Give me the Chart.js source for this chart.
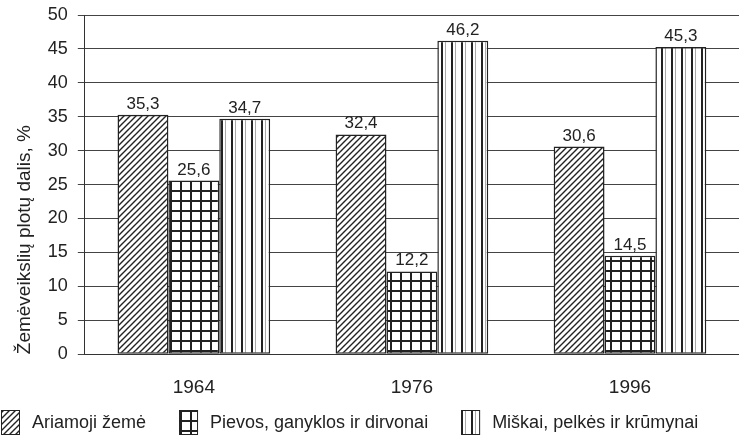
<!DOCTYPE html>
<html>
<head>
<meta charset="utf-8">
<script src="https://cdn.jsdelivr.net/npm/chart.js@4/dist/chart.umd.min.js"></script>
<style>
  html, body { margin: 0; padding: 0; background: #fff; }
  #wrap { width: 739px; height: 445px; }
</style>
</head>
<body>
<div id="wrap"><canvas id="chart" width="739" height="445"></canvas></div>
<script>
const years = ['1964', '1976', '1996'];
const arable = [35.3, 32.4, 30.6];
const meadows = [25.6, 12.2, 14.5];
const forests = [34.7, 46.2, 45.3];
const yTicks = [0, 5, 10, 15, 20, 25, 30, 35, 40, 45, 50];
const seriesNames = ['Ariamoji žemė', 'Pievos, ganyklos ir dirvonai', 'Miškai, pelkės ir krūmynai'];

const FONT = '"Liberation Sans", Arial, Helvetica, sans-serif';

// --- raštai stulpeliams ---
function makePattern(size, draw) {
    const c = document.createElement('canvas');
    c.width = size[0]; c.height = size[1];
    const g = c.getContext('2d');
    g.fillStyle = '#fff';
    g.fillRect(0, 0, c.width, c.height);
    draw(g, c.width, c.height);
    return g.createPattern(c, 'repeat');
}
const ctx = document.getElementById('chart').getContext('2d');
const diagPattern = makePattern([6, 6], (g, w, h) => {
    g.strokeStyle = '#222'; g.lineWidth = 1.4;
    g.beginPath();
    g.moveTo(-1, h + 1); g.lineTo(w + 1, -1);
    g.moveTo(-1, 1); g.lineTo(1, -1);
    g.moveTo(w - 1, h + 1); g.lineTo(w + 1, h - 1);
    g.stroke();
});
const gridPattern = makePattern([10, 10], (g, w, h) => {
    g.strokeStyle = '#222'; g.lineWidth = 2;
    g.beginPath();
    g.moveTo(1, 0); g.lineTo(1, h);
    g.moveTo(0, 1); g.lineTo(w, 1);
    g.stroke();
});
const vertPattern = makePattern([10, 2], (g, w, h) => {
    g.fillStyle = '#222';
    g.fillRect(1, 0, 2, h);
    g.fillStyle = '#aaa';
    g.fillRect(5, 0, 1, h);
});

// --- reikšmės virš stulpelių ---
const valueLabels = {
    id: 'valueLabels',
    afterDatasetsDraw(chart) {
        const c = chart.ctx;
        c.save();
        c.font = '17px ' + FONT;
        c.fillStyle = '#222';
        c.textAlign = 'center';
        c.textBaseline = 'alphabetic';
        chart.data.datasets.forEach((ds, i) => {
            chart.getDatasetMeta(i).data.forEach((bar, j) => {
                c.fillText(String(ds.data[j]).replace('.', ','), bar.x, bar.y - 6);
            });
        });
        c.restore();
    }
};

// --- legenda apačioje ---
const bottomLegend = {
    id: 'bottomLegend',
    afterDraw(chart) {
        const c = chart.ctx;
        c.save();
        c.font = '18px ' + FONT;
        c.textBaseline = 'middle';
        c.fillStyle = '#222';
        let x = 1;
        const top = 410, boxW = 19, boxH = 25;
        chart.data.datasets.forEach(ds => {
            c.fillStyle = ds.backgroundColor;
            c.fillRect(x, top, boxW, boxH);
            c.strokeStyle = '#222';
            c.lineWidth = 1;
            c.strokeRect(x + 0.5, top + 0.5, boxW - 1, boxH - 1);
            c.fillStyle = '#222';
            const tx = x + boxW + 12;
            c.fillText(ds.label, tx, top + boxH / 2 + 1);
            x = tx + c.measureText(ds.label).width + 33;
        });
        c.restore();
    }
};

new Chart(ctx, {
    type: 'bar',
    data: {
        labels: years,
        datasets: [
            { label: seriesNames[0], data: arable, backgroundColor: diagPattern },
            { label: seriesNames[1], data: meadows, backgroundColor: gridPattern },
            { label: seriesNames[2], data: forests, backgroundColor: vertPattern }
        ].map(d => Object.assign(d, { borderColor: '#222', borderWidth: 1.5, borderSkipped: false }))
    },
    options: {
        responsive: false,
        animation: false,
        devicePixelRatio: 1,
        layout: { padding: { left: 13, right: 0, top: 15, bottom: 32 } },
        datasets: { bar: { categoryPercentage: 0.7, barPercentage: 1 } },
        plugins: {
            legend: { display: false },
            tooltip: { enabled: false }
        },
        scales: {
            x: {
                grid: { display: false },
                border: { color: '#333', width: 1 },
                ticks: { color: '#222', font: { family: FONT, size: 19 }, padding: 14 }
            },
            y: {
                min: 0, max: 50,
                afterBuildTicks: axis => { axis.ticks = yTicks.map(v => ({ value: v })); },
                afterFit: axis => { axis.paddingTop = 0; },
                grid: { color: '#444', lineWidth: 1, tickLength: 7, drawTicks: true },
                border: { color: '#333', width: 1 },
                ticks: { color: '#222', font: { family: FONT, size: 18 }, padding: 10 },
                title: {
                    display: true,
                    text: 'Žemėveikslių plotų dalis, %',
                    align: 'start',
                    color: '#222',
                    font: { family: FONT, size: 19 },
                    padding: { top: 0, bottom: 2 }
                }
            }
        }
    },
    plugins: [valueLabels, bottomLegend]
});
</script>
</body>
</html>
